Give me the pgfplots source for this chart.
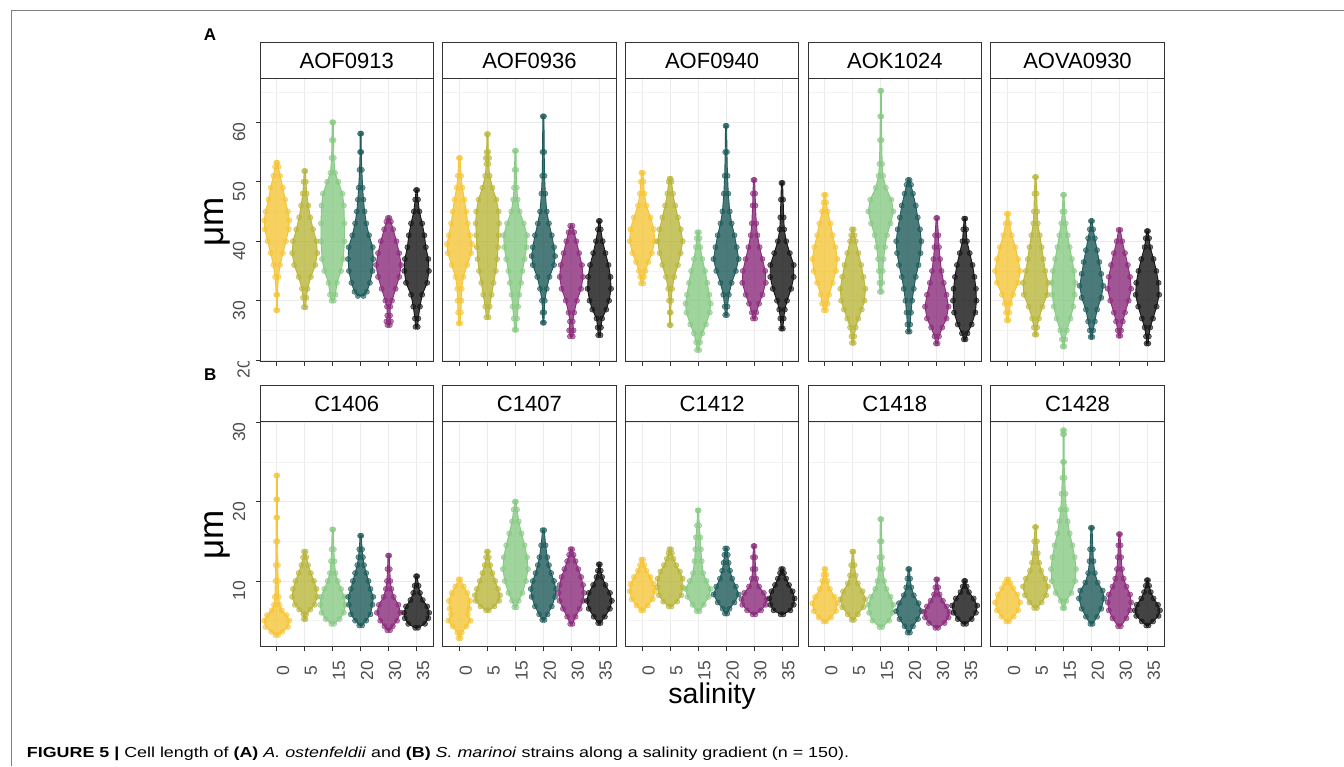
\documentclass[border=0pt]{standalone}
\usepackage{fontspec}
\setmainfont{Liberation Sans}
\usepackage{pgfplots}
\pgfplotsset{compat=1.18}

\definecolor{c0}{HTML}{F5C537}
\definecolor{c5}{HTML}{B9B53B}
\definecolor{c15}{HTML}{88C984}
\definecolor{c20}{HTML}{1D5A59}
\definecolor{c30}{HTML}{8A2A7B}
\definecolor{c35}{HTML}{141414}
\definecolor{g20}{HTML}{333333}
\definecolor{g30}{HTML}{4D4D4D}
\definecolor{gridc}{HTML}{EBEBEB}
\definecolor{frame}{HTML}{808080}

\pgfplotsset{
 vio/.style={draw=#1, fill=#1, fill opacity=0.8, line width=0.9pt, line join=round},
 tip/.style={only marks, mark=*, mark size=2.6pt, mark options={draw=#1, fill=#1, fill opacity=0.6, draw opacity=0.8, line width=0.5pt}},
 panel/.style={
  scale only axis, width=173.4pt, anchor=north west,
  xmin=0.4, xmax=6.6, xtick={1,2,3,4,5,6}, xticklabels={},
  xtick pos=bottom, ytick pos=left, tick align=outside,
  major tick length=4.5pt, minor tick length=0pt,
  tick style={g20, line width=0.8pt},
  axis line style={g20, line width=0.9pt},
  grid=both,
  major grid style={gridc, line width=0.9pt},
  minor grid style={gridc!60, line width=0.5pt},
  tick label style={font=\fontsize{17.5}{18}\selectfont, text=g30},
 },
 toprow/.style={height=283.4pt, ymin=19.74, ymax=67.4, ytick={20,30,40,50,60}, minor ytick={25,35,45,55,65}},
 botrow/.style={height=225pt, ymin=1.72, ymax=30.08, ytick={10,20,30}, minor ytick={5,15,25},
    xticklabels={0,5,15,20,30,35},
    xticklabel style={rotate=90, anchor=north, inner sep=0pt}, xticklabel shift=19.3pt},
 firsty/.style={yticklabel style={rotate=90, anchor=south east, inner sep=0pt}, yticklabel shift=10pt},
 noy/.style={yticklabels={}, y tick style={draw=none}},
}

% violin: #1 category position, #2 colour, #3 list of value/half-width pairs (bottom to top)
\newcommand\violin[3]{%
  \gdef\vleft{}\gdef\vright{}%
  \foreach \vY/\vW in {#3}{%
    \pgfmathsetmacro\vXl{#1-\vW}%
    \pgfmathsetmacro\vXr{#1+\vW}%
    \xdef\vleft{\vleft(\vXl,\vY)}%
    \xdef\vright{(\vXr,\vY)\vright}%
  }%
  \edef\vtmp{\noexpand\addplot[vio=#2] coordinates {\vleft\vright} -- cycle;
    \noexpand\addplot[tip=#2] coordinates {\vleft\vright};}%
  \vtmp
}

\begin{document}
\begin{tikzpicture}
\path[use as bounding box] (0pt,0pt) rectangle (1344pt,766pt);
\draw[frame, line width=1pt] (11pt,0pt) -- (11pt,755.3pt) -- (1344pt,755.3pt);

% ---------------- Row A ----------------
\begin{axis}[panel, toprow, firsty, yticklabels={,30,40,50,60}, at={(260pt,687.7pt)}]
\violin{1}{c0}{28.4/0.02,31/0.02,34/0.06,36/0.12,38/0.22,40/0.33,42/0.43,43.5/0.45,45/0.4,47/0.3,49/0.22,51/0.12,52.5/0.06,53.2/0.02}
\violin{2}{c5}{28.9/0.03,30.5/0.06,32/0.1,34/0.22,36/0.38,38/0.45,40/0.42,42/0.3,44/0.2,46/0.13,48/0.07,50/0.04,51.8/0.02}
\violin{3}{c15}{30/0.04,31/0.1,33/0.15,35/0.3,37/0.38,40/0.42,43/0.42,46/0.4,48/0.35,50/0.2,51.5/0.08,54/0.04,57/0.03,60/0.02}
\violin{4}{c20}{30.8/0.1,31.5/0.22,33/0.33,35/0.42,37/0.45,39/0.43,41/0.3,43/0.2,45/0.14,47/0.1,49/0.07,52/0.04,55/0.02,58.1/0.02}
\violin{5}{c30}{25.9/0.04,26.5/0.08,27.5/0.05,29/0.06,30/0.12,32/0.25,34/0.38,36/0.45,38/0.38,40/0.28,42/0.16,43.3/0.08,43.9/0.03}
\violin{6}{c35}{25.6/0.04,27/0.06,29/0.12,31/0.2,33/0.38,35/0.44,37/0.42,39/0.33,41/0.28,43/0.2,45/0.1,47/0.05,48.6/0.02}
\end{axis}

\begin{axis}[panel, toprow, noy, at={(442.7pt,687.7pt)}]
\violin{1}{c0}{26.2/0.03,28/0.05,30/0.07,32/0.08,34/0.14,36/0.28,38/0.42,39.5/0.45,41/0.38,43/0.3,45/0.24,47/0.18,49/0.1,51/0.06,54/0.02}
\violin{2}{c5}{27.2/0.04,29/0.08,31/0.15,33/0.22,35/0.3,37/0.35,39/0.38,41/0.4,43/0.42,45/0.4,47/0.32,49/0.18,51/0.08,53/0.04,54/0.06,55/0.03,58/0.02}
\violin{3}{c15}{25.1/0.03,27/0.06,29/0.1,31/0.14,33/0.2,35/0.25,37/0.33,39/0.4,41/0.42,43/0.3,45/0.15,47/0.08,49/0.05,52/0.03,55.2/0.02}
\violin{4}{c20}{26.3/0.02,28/0.03,30/0.05,32/0.12,34/0.22,36/0.38,37.5/0.42,39/0.38,41/0.3,43/0.2,45/0.12,48/0.07,51/0.04,55/0.03,61/0.02}
\violin{5}{c30}{24/0.05,25/0.08,26.5/0.05,28/0.1,30/0.2,32/0.35,34/0.42,36/0.38,38/0.28,40/0.18,41.5/0.1,42.6/0.04}
\violin{6}{c35}{24.2/0.04,25.5/0.06,27/0.1,28.5/0.25,30/0.35,32/0.42,34/0.4,36/0.33,38/0.22,40/0.12,42/0.05,43.4/0.02}
\end{axis}

\begin{axis}[panel, toprow, noy, at={(625.4pt,687.7pt)}]
\violin{1}{c0}{32.9/0.04,34/0.07,35/0.12,36.5/0.22,38/0.35,40/0.45,42/0.42,44/0.3,46/0.15,48/0.08,50/0.05,51.5/0.03}
\violin{2}{c5}{25.9/0.02,28/0.02,30/0.04,32/0.07,34/0.15,36/0.28,38/0.38,40/0.45,42/0.38,44/0.28,46/0.18,48/0.1,50/0.05,50.5/0.02}
\violin{3}{c15}{21.7/0.04,23/0.07,24.5/0.15,26/0.28,28/0.42,29.5/0.45,31/0.4,33/0.33,35/0.25,37/0.15,39/0.08,40.5/0.05,41.5/0.03}
\violin{4}{c20}{27.6/0.03,29/0.05,31/0.1,33/0.2,35/0.35,37/0.45,39/0.38,41/0.3,43/0.2,45/0.13,48/0.08,51/0.05,55/0.03,59.4/0.02}
\violin{5}{c30}{27/0.04,28/0.08,29.5/0.18,31/0.3,33/0.42,35/0.4,37/0.3,39/0.2,41/0.12,43/0.08,46/0.05,48/0.04,50.3/0.02}
\violin{6}{c35}{25.3/0.03,27/0.06,28.5/0.1,30/0.18,32/0.33,34/0.42,36/0.42,38/0.28,40/0.15,42/0.08,44/0.06,47/0.04,49.8/0.02}
\end{axis}

\begin{axis}[panel, toprow, noy, at={(808.1pt,687.7pt)}]
\violin{1}{c0}{28.4/0.04,29.5/0.1,31/0.15,33/0.28,35/0.4,37/0.45,39/0.38,41/0.28,43/0.2,45/0.1,46.5/0.05,47.8/0.03}
\violin{2}{c5}{22.9/0.03,24/0.05,25.5/0.1,27/0.2,28.5/0.32,30/0.42,32/0.45,34/0.38,36/0.3,38/0.2,40/0.1,41/0.06,42/0.03}
\violin{3}{c15}{31.5/0.03,33/0.05,35/0.07,37/0.1,39/0.15,41/0.22,43/0.35,45/0.45,47/0.38,49/0.18,51/0.08,53/0.05,57/0.03,61/0.02,65.3/0.02}
\violin{4}{c20}{24.8/0.03,26/0.05,28/0.08,30/0.12,32/0.18,34/0.25,36/0.35,38/0.42,40/0.45,42/0.4,44/0.32,46/0.25,48/0.15,49.5/0.08,50.3/0.03}
\violin{5}{c30}{22.8/0.03,24/0.08,25.5/0.2,27/0.35,29/0.42,31/0.35,33/0.25,35/0.17,37/0.12,39/0.08,41/0.06,43.9/0.02}
\violin{6}{c35}{23.5/0.03,24.5/0.1,26/0.25,28/0.38,30/0.42,32/0.4,34/0.35,36/0.28,38/0.18,40/0.08,42/0.05,43.8/0.02}
\end{axis}

\begin{axis}[panel, toprow, noy, at={(990.8pt,687.7pt)}]
\violin{1}{c0}{26.7/0.03,28/0.06,29.5/0.1,31/0.2,33/0.38,35/0.45,37/0.38,39/0.28,41/0.15,43/0.07,44.6/0.03}
\violin{2}{c5}{24.3/0.03,25.5/0.06,27/0.12,29/0.25,31/0.42,33/0.45,35/0.35,37/0.28,39/0.22,41/0.15,43/0.08,45/0.06,48/0.04,50.8/0.02}
\violin{3}{c15}{22.3/0.03,23.5/0.06,25/0.12,27/0.25,29/0.35,31/0.4,33/0.42,35/0.38,37/0.3,39/0.22,41/0.15,43/0.08,45/0.04,47.8/0.02}
\violin{4}{c20}{23.9/0.03,25/0.06,26.5/0.12,28.5/0.2,30.5/0.35,32.5/0.42,34.5/0.35,36.5/0.28,38.5/0.2,40.5/0.12,42/0.06,43.4/0.02}
\violin{5}{c30}{24.1/0.03,25/0.06,26.5/0.12,28/0.2,30/0.33,32/0.42,34/0.38,36/0.3,38/0.2,40/0.1,41.9/0.03}
\violin{6}{c35}{22.8/0.03,24/0.05,25.5/0.1,27/0.2,29/0.33,31/0.42,33/0.4,35/0.32,37/0.22,39/0.1,40.5/0.06,41.7/0.02}
\end{axis}

% ---------------- Row B ----------------
\begin{axis}[panel, botrow, firsty, yticklabels={10,20,30}, at={(260pt,344.3pt)}]
\violin{1}{c0}{3.2/0.05,3.6/0.2,4.2/0.4,5/0.45,5.7/0.35,6.3/0.18,7/0.1,8/0.07,10/0.05,12/0.04,15/0.03,18/0.02,20.3/0.02,23.3/0.02}
\violin{2}{c5}{5.2/0.03,5.8/0.05,6.4/0.2,7/0.35,8/0.45,9/0.42,10/0.33,11/0.22,12/0.12,13/0.06,13.7/0.03}
\violin{3}{c15}{4.6/0.05,5.2/0.25,6/0.4,7/0.45,8/0.42,9/0.3,10/0.18,11/0.1,12.5/0.06,14/0.04,16.5/0.02}
\violin{4}{c20}{4.4/0.05,5/0.2,5.8/0.35,7/0.42,8/0.45,9/0.35,10/0.28,11/0.2,12/0.12,13/0.08,14/0.05,15.7/0.02}
\violin{5}{c30}{3.8/0.05,4.3/0.15,5/0.3,6/0.42,7/0.35,8/0.18,9/0.1,10/0.06,11.5/0.04,13.2/0.02}
\violin{6}{c35}{4.1/0.05,4.6/0.3,5.3/0.42,6/0.45,6.8/0.38,7.6/0.22,8.5/0.12,9.4/0.07,10.6/0.02}
\end{axis}

\begin{axis}[panel, botrow, noy, at={(442.7pt,344.3pt)}]
\violin{1}{c0}{2.8/0.04,3.5/0.08,4.3/0.25,5/0.4,5.8/0.3,6.5/0.35,7.5/0.38,8.5/0.28,9.3/0.15,10.2/0.03}
\violin{2}{c5}{6.3/0.05,6.8/0.25,7.5/0.42,8.2/0.45,9/0.38,10/0.28,11/0.18,12/0.1,13/0.05,13.7/0.02}
\violin{3}{c15}{6.7/0.04,7.5/0.12,8.5/0.25,10/0.38,11.5/0.45,13/0.42,14.5/0.33,16/0.22,17.5/0.12,19/0.06,20/0.02}
\violin{4}{c20}{5.1/0.04,5.8/0.15,6.8/0.3,8/0.42,9/0.45,10/0.38,11/0.28,12/0.2,13/0.14,14.5/0.08,16.4/0.03}
\violin{5}{c30}{4.6/0.04,5.5/0.15,6.5/0.3,7.5/0.42,8.5/0.45,9.5/0.42,10.5/0.35,11.5/0.25,12.5/0.15,13.3/0.08,14/0.03}
\violin{6}{c35}{4.7/0.04,5.5/0.2,6.5/0.38,7.5/0.45,8.5/0.38,9.5/0.22,10.5/0.1,11.3/0.05,12.1/0.02}
\end{axis}

\begin{axis}[panel, botrow, noy, at={(625.4pt,344.3pt)}]
\violin{1}{c0}{6.3/0.04,6.9/0.2,7.7/0.38,8.7/0.45,9.6/0.42,10.5/0.3,11.3/0.15,12/0.08,12.7/0.03}
\violin{2}{c5}{6.8/0.05,7.4/0.25,8.2/0.4,9.2/0.45,10.3/0.45,11.2/0.35,12/0.22,12.8/0.12,13.5/0.06,14/0.03}
\violin{3}{c15}{6.2/0.05,7/0.2,8/0.38,9/0.45,10/0.3,11/0.18,12.5/0.13,14/0.1,15.5/0.08,17/0.04,18.9/0.02}
\violin{4}{c20}{5.9/0.04,6.5/0.12,7.3/0.3,8.3/0.45,9.3/0.35,10.3/0.22,11.3/0.14,12.3/0.09,13.3/0.06,14.1/0.03}
\violin{5}{c30}{5.8/0.05,6.3/0.25,7/0.42,7.7/0.45,8.5/0.35,9.3/0.18,10.3/0.08,11.5/0.05,13/0.04,14.4/0.02}
\violin{6}{c35}{5.8/0.05,6.3/0.3,7/0.42,7.8/0.45,8.7/0.38,9.5/0.25,10.3/0.15,11/0.07,11.5/0.03}
\end{axis}

\begin{axis}[panel, botrow, noy, at={(808.1pt,344.3pt)}]
\violin{1}{c0}{4.9/0.05,5.4/0.22,6.2/0.4,7.2/0.45,8/0.35,9/0.18,10/0.09,10.8/0.05,11.5/0.02}
\violin{2}{c5}{5.1/0.04,5.8/0.18,6.7/0.38,7.7/0.45,8.7/0.35,9.7/0.18,10.7/0.1,12/0.06,13.7/0.02}
\violin{3}{c15}{4.2/0.05,5/0.3,6/0.42,7/0.45,8/0.35,9/0.2,10/0.12,11.5/0.07,13/0.04,15/0.03,17.8/0.02}
\violin{4}{c20}{3.5/0.04,4.3/0.15,5.2/0.33,6.2/0.45,7.2/0.35,8.2/0.18,9.2/0.09,10.3/0.05,11.5/0.02}
\violin{5}{c30}{4.1/0.05,4.7/0.28,5.4/0.42,6.1/0.45,6.8/0.35,7.5/0.22,8.3/0.1,9.2/0.05,10.2/0.02}
\violin{6}{c35}{4.6/0.05,5.2/0.25,6/0.4,6.9/0.45,7.8/0.32,8.6/0.15,9.3/0.07,10/0.02}
\end{axis}

\begin{axis}[panel, botrow, noy, at={(990.8pt,344.3pt)}]
\violin{1}{c0}{4.9/0.05,5.5/0.22,6.3/0.38,7.3/0.45,8.3/0.35,9.1/0.2,9.7/0.1,10.2/0.03}
\violin{2}{c5}{6.6/0.05,7.3/0.22,8.2/0.38,9.3/0.45,10.3/0.35,11.3/0.2,12.3/0.13,13.5/0.08,15/0.05,16.8/0.02}
\violin{3}{c15}{6.6/0.03,7.5/0.1,8.5/0.28,10/0.42,11.5/0.45,13/0.4,14.5/0.32,16/0.22,17.5/0.15,19/0.1,21/0.07,23/0.04,25/0.02,28.5/0.02,29/0.02}
\violin{4}{c20}{4.6/0.04,5.5/0.2,6.5/0.35,7.8/0.45,8.8/0.4,9.8/0.22,11/0.12,12.5/0.07,14/0.05,16.7/0.02}
\violin{5}{c30}{4.3/0.05,5.3/0.25,6.3/0.38,7.3/0.42,8.3/0.38,9.3/0.25,10.3/0.15,11.5/0.09,13/0.06,14.5/0.04,15.9/0.02}
\violin{6}{c35}{4.4/0.04,4.9/0.2,5.6/0.4,6.3/0.45,7/0.38,7.8/0.22,8.6/0.12,9.4/0.06,10.1/0.02}
\end{axis}

% ---------------- strips ----------------
\foreach \name [count=\i from 0] in {AOF0913,AOF0936,AOF0940,AOK1024,AOVA0930}{
  \pgfmathsetmacro\L{260+182.7*\i}
  \pgfmathsetmacro\R{\L+173.4}
  \pgfmathsetmacro\C{\L+86.7}
  \draw[g20, line width=0.9pt, fill=white] (\L pt,687.7pt) rectangle (\R pt,723.3pt);
  \node[font=\fontsize{22}{24}\selectfont, anchor=center] at (\C pt,705.5pt) {\name};
}
\foreach \name [count=\i from 0] in {C1406,C1407,C1412,C1418,C1428}{
  \pgfmathsetmacro\L{260+182.7*\i}
  \pgfmathsetmacro\R{\L+173.4}
  \pgfmathsetmacro\C{\L+86.7}
  \draw[g20, line width=0.9pt, fill=white] (\L pt,344.3pt) rectangle (\R pt,380.3pt);
  \node[font=\fontsize{22}{24}\selectfont, anchor=center] at (\C pt,362.3pt) {\name};
}

% partly hidden "20" label of row A
\begin{scope}
\clip (228pt,389.3pt) rectangle (256pt,404.3pt);
\node[rotate=90, anchor=south east, inner sep=0pt, font=\fontsize{17.5}{18}\selectfont, text=g30] at (250pt,407.5pt) {20};
\end{scope}

% axis titles and panel letters
\node[rotate=90, anchor=base, font=\fontsize{35}{36}\selectfont] at (223pt,544pt) {μm};
\node[rotate=90, anchor=base, font=\fontsize{35}{36}\selectfont] at (223pt,231pt) {μm};
\node[anchor=base, font=\fontsize{28.5}{30}\selectfont] at (712pt,62.7pt) {salinity};
\node[anchor=base, font=\bfseries\fontsize{17}{18}\selectfont] at (210pt,725.3pt) {A};
\node[anchor=base, font=\bfseries\fontsize{17}{18}\selectfont] at (210.3pt,385.3pt) {B};

% caption
\node[anchor=base west, inner sep=0pt, font=\fontsize{14.5}{16}\selectfont] at (26.7pt,8.3pt)
 {\scalebox{1.233}[1]{\textbf{FIGURE 5 |} Cell length of \textbf{(A)} \textit{A. ostenfeldii} and \textbf{(B)} \textit{S. marinoi} strains along a salinity gradient (n = 150).}};
\end{tikzpicture}
\end{document}
